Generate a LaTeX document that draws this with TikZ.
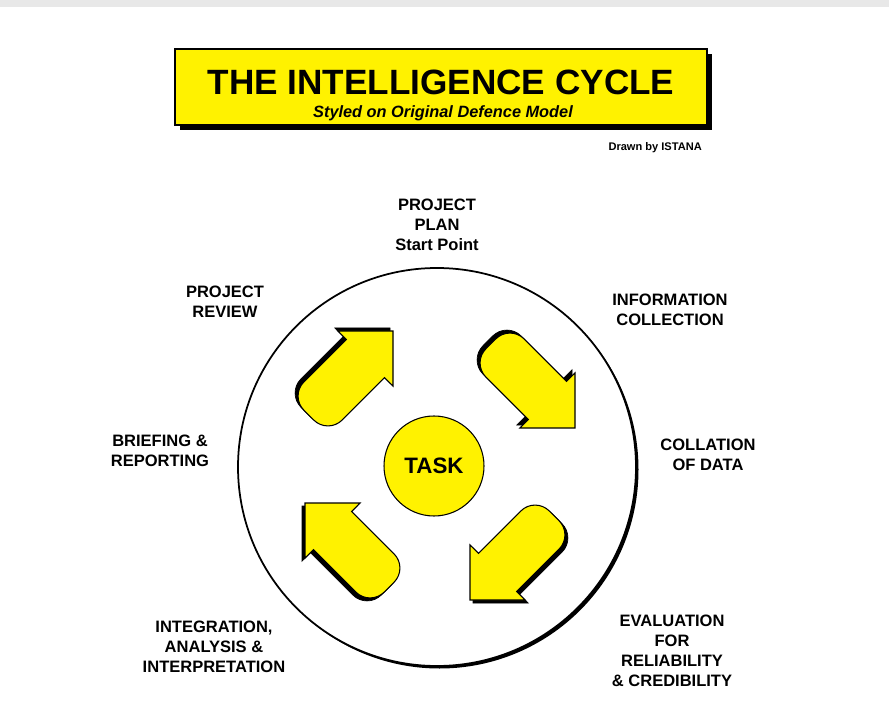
\documentclass[tikz,border=0pt]{standalone}
\usepackage{fontspec}
\setmainfont{Liberation Sans}
\usetikzlibrary{positioning}

\begin{document}
\begin{tikzpicture}[x=0.02cm, y=-0.02cm]
        \tikzset{
            phase/.style={font=\bfseries\fontsize{9.4}{11.3}\selectfont, align=center},
            shade box/.style={fill=black, draw=black},
            yellow box/.style={fill=yellow, draw=black, line width=0.6pt},
            pics/blockarrow/.style={code={
                \path[pic actions] (0,0) -- (-39,39) -- (-39,27) -- (-99,27)
                    .. controls (-110,27) and (-119,18) .. (-119,7) -- (-119,-7)
                    .. controls (-119,-18) and (-110,-27) .. (-99,-27)
                    -- (-39,-27) -- (-39,-39) -- cycle;
            }},
        }

        \useasboundingbox (0,0) rectangle (889,719);
        \fill[gray!18] (0,0) rectangle (889,7);

        % title block
        \fill[black] (180,54) rectangle (712,130);
        \node[yellow box, minimum width=532*0.02cm, minimum height=76*0.02cm, inner sep=0pt]
            (title) at (441,87) {};
        \node[font=\bfseries\fontsize{20}{24}\selectfont] (heading) at (441,82) {THE INTELLIGENCE CYCLE};
        \node[font=\bfseries\itshape\fontsize{9.3}{11}\selectfont] (subtitle) at (443,113) {Styled on Original Defence Model};
        \node[font=\bfseries\fontsize{6.3}{7.5}\selectfont, anchor=east] (credit) at (708,148) {Drawn by ISTANA};

        % outer ring and centre
        \fill[black] (439.5,469.5) circle (199);
        \draw[fill=white, line width=1pt] (437,467) circle (199);
        \node[circle, yellow box, minimum size=100*0.02cm, font=\bfseries\fontsize{12.7}{15}\selectfont]
            (task) at (434,466) {TASK};

        % the four arrows, shadow first
        \pic[shade box, rotate=45] at (390,328) {blockarrow};
        \pic[yellow box, rotate=45] (review) at (393,331) {blockarrow};
        \pic[shade box, rotate=-45] at (572,425) {blockarrow};
        \pic[yellow box, rotate=-45] (collect) at (575,428) {blockarrow};
        \pic[shade box, rotate=-135] at (473,603) {blockarrow};
        \pic[yellow box, rotate=-135] (evaluate) at (470,600) {blockarrow};
        \pic[shade box, rotate=135] at (302,506) {blockarrow};
        \pic[yellow box, rotate=135] (integrate) at (305,503) {blockarrow};

        % stage labels
        \node[phase] (plan) at (437,225) {PROJECT\\PLAN\\Start Point};
        \node[phase] (info) at (670,310) {INFORMATION\\COLLECTION};
        \node[phase] (collation) at (708,455) {COLLATION\\OF DATA};
        \node[phase] (evaluation) at (672,651) {EVALUATION\\FOR\\RELIABILITY\\\& CREDIBILITY};
        \node[phase] (analysis) at (214,647) {INTEGRATION,\\ANALYSIS \&\\INTERPRETATION};
        \node[phase] (briefing) at (160,451) {BRIEFING \&\\REPORTING};
        \node[phase] (projreview) at (225,302) {PROJECT\\REVIEW};
    \end{tikzpicture}
\end{document}
